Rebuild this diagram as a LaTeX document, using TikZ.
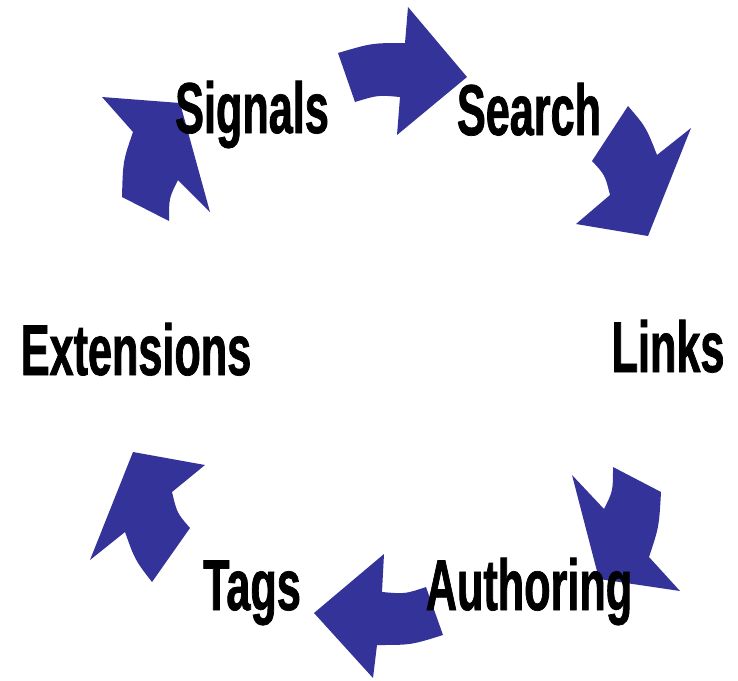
\documentclass[tikz,border=0pt]{standalone}
\usepackage{fontspec}
\newfontfamily\cyclefont{Liberation Sans}[FakeStretch=0.6,FakeBold=1]
\definecolor{arrowBlue}{RGB}{51,51,153}

\begin{document}
\begin{tikzpicture}
[x=1pt,y=-1pt,
  arrowDecorate/.style={fill=arrowBlue,draw=none},%
  nodeDecorate/.style={anchor=base,inner sep=0pt,
    font=\cyclefont\bfseries\fontsize{72}{72}\selectfont}]
\useasboundingbox (0,0) rectangle (738,680);
%% curved block arrows
\fill[arrowDecorate] (338,53) -- (355,102) .. controls (378,95) .. (400,97)
  -- (397,135) -- (467,77) -- (408,7) -- (405,43) .. controls (372,43) .. (338,53) -- cycle;
\fill[arrowDecorate] (628,106) .. controls (646,127) .. (657,155)
  -- (691,128) -- (648,236) -- (576,224) -- (610,195) .. controls (605,175) .. (592,161) -- cycle;
\fill[arrowDecorate] (613,467) -- (661,492) .. controls (659,527) .. (649,557)
  -- (680,591) -- (599,579) -- (572,475) -- (604,509) .. controls (613,491) .. (613,467) -- cycle;
\fill[arrowDecorate] (426,587) -- (443,635) .. controls (411,645) .. (377,645)
  -- (373,678) -- (314,613) -- (384,554) -- (382,592) .. controls (405,594) .. (426,587) -- cycle;
\fill[arrowDecorate] (190,528) -- (152,582) .. controls (135,560) .. (125,532)
  -- (90,560) -- (133,452) -- (205,465) -- (172,492) .. controls (177,513) .. (190,528) -- cycle;
\fill[arrowDecorate] (169,221) -- (122,197) .. controls (123,161) .. (133,132)
  -- (102,97) -- (180,103) -- (210,212) -- (178,180) .. controls (169,198) .. (169,221) -- cycle;
%% labels
\foreach \nodename/\x/\y/\nodetext in {
  signals/252/133/Signals, search/529/135/Search, links/668/372/Links,
  authoring/529/610/Authoring, tags/252/610/Tags, extensions/136/375/Extensions}
{
  \node (\nodename) at (\x,\y) [nodeDecorate] {\nodetext};
}
\end{tikzpicture}
\end{document}
